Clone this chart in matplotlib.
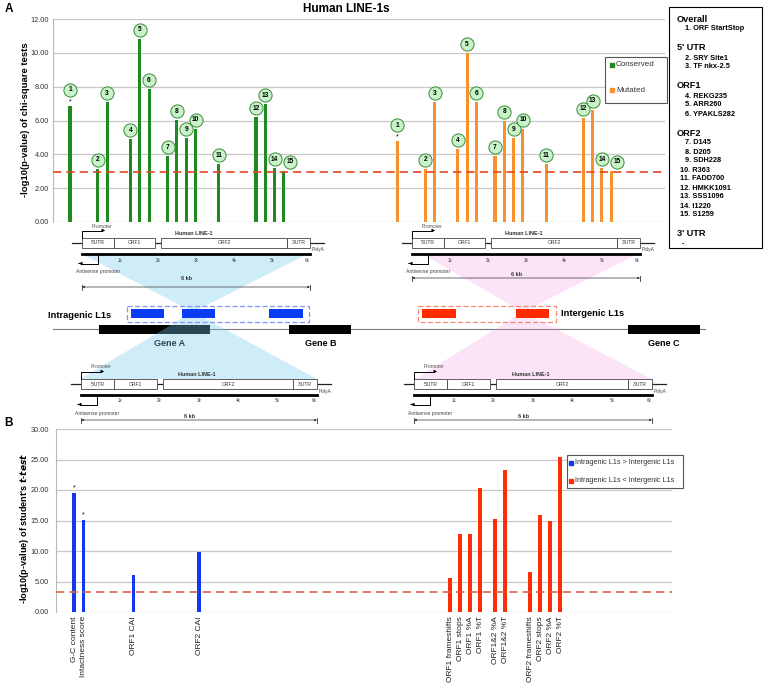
import matplotlib
matplotlib.use('Agg')
import matplotlib.pyplot as plt
from matplotlib.patches import Rectangle, Polygon

plt.rcParams['font.family'] = ['Liberation Sans', 'DejaVu Sans']

# ---- panel A data: chi-square tests per site ----
site_ids = list(range(1, 16))
site_slots = [0, 3, 4, 6.5, 7.5, 8.5, 10.5, 11.5, 12.5, 13.5, 16, 20, 21, 22, 23]
conserved = [6.87, 3.15, 7.09, 4.88, 10.83, 7.85, 3.88, 6.02, 4.96, 5.51, 3.41, 6.18, 6.95, 3.19, 3.03]
mutated = [4.78, 3.15, 7.09, 4.29, 9.98, 7.09, 3.88, 6.00, 4.94, 5.51, 3.41, 6.16, 6.65, 3.19, 3.03]
mutated_shift = 35.2
chi_cutoff = 2.93
starred_sites = [1]
chi_ticks = [0, 2, 4, 6, 8, 10, 12]

site_groups = [
    ("Overall", ["ORF StartStop"]),
    ("5' UTR", ["SRY Site1", "TF nkx-2.5"]),
    ("ORF1", ["REKG235", "ARR260", "YPAKLS282"]),
    ("ORF2", ["D145", "D205", "SDH228", "R363", "FADD700", "HMKK1091", "SSS1096", "I1220", "S1259"]),
    ("3' UTR", []),
]

# ---- panel B data: t-tests ----
features = ['G-C content', 'Intactness score', 'ORF1 CAI', 'ORF2 CAI',
            'ORF1 frameshifts', 'ORF1 stops', 'ORF1 %A', 'ORF1 %T', 'ORF1&2 %A', 'ORF1&2 %T',
            'ORF2 frameshifts', 'ORF2 stops', 'ORF2 %A', 'ORF2 %T']
feature_slots = [0, 0.95, 5.95, 12.5, 37.6, 38.6, 39.6, 40.6, 42.1, 43.1, 45.6, 46.6, 47.6, 48.6]
t_values = [19.5, 15.05, 6.03, 9.78, 5.63, 12.72, 12.82, 20.4, 15.26, 23.32, 6.6, 15.85, 14.93, 25.38]
intragenic_higher = [True] * 4 + [False] * 10
starred_features = ['G-C content', 'Intactness score']
t_cutoff = 3.3
t_ticks = [0, 5, 10, 15, 20, 25, 30]

GREEN = '#1f8a1f'
ORANGE = '#f6922e'
BLUE = '#1238ee'
RED = '#ff2c05'

W, H = 765, 684
fig = plt.figure(figsize=(W / 100, H / 100), dpi=100)


def px_rect(l, t, r, b):
    return [l / W, 1 - b / H, (r - l) / W, (b - t) / H]


def style(ax, ticks, pad):
    ax.set_ylim(ticks[0], ticks[-1])
    ax.set_yticks(ticks)
    ax.set_yticklabels(['%.2f' % t for t in ticks], fontsize=5.3, color='#333')
    ax.tick_params(axis='y', length=0, pad=pad)
    ax.grid(axis='y', color='#c8c8c8', lw=0.9)
    ax.set_axisbelow(True)
    for s in ['top', 'right', 'bottom']:
        ax.spines[s].set_visible(False)
    ax.spines['left'].set_color('#b8b8b8')
    ax.patch.set_alpha(0)


# ---------------- panel A ----------------
axA = fig.add_axes(px_rect(53, 19, 665, 222), zorder=1)
style(axA, chi_ticks, 3)
axA.set_xlim(-1.83, 63.98)
axA.set_xticks([])
ppu = 203 / 12.0
for vals, shift, col in [(conserved, 0, GREEN), (mutated, mutated_shift, ORANGE)]:
    xs = [s + shift for s in site_slots]
    axA.bar(xs, vals, width=0.33, color=col, zorder=2)
    for sid, x, v in zip(site_ids, xs, vals):
        off = 9 / ppu
        if sid in starred_sites:
            axA.text(x, v + 4 / ppu, '*', fontsize=5, ha='center', va='center', zorder=4)
            off = 16 / ppu
        dx = 0.65 if sid == 15 else 0
        axA.plot(x + dx, v + off, 'o', ms=9.5, mfc='#c8f2c8', mec='#3a8a3a', mew=0.7,
                 clip_on=False, zorder=4)
        axA.text(x + dx, v + off, str(sid), fontsize=4.8, weight='bold', ha='center',
                 va='center', zorder=5)
axA.axhline(chi_cutoff, color='#e8461e', lw=1.2, dashes=(5, 3), zorder=3)

# ---------------- panel B ----------------
axB = fig.add_axes(px_rect(56, 429, 672, 612), zorder=1)
style(axB, t_ticks, 5)
axB.set_xlim(-1.8, 59.8)
cols = [BLUE if h else RED for h in intragenic_higher]
axB.bar(feature_slots, t_values, width=0.35, color=cols, zorder=2)
for f, x, v in zip(features, feature_slots, t_values):
    if f in starred_features:
        axB.text(x, v + 0.9, '*', fontsize=5, ha='center', va='center')
axB.set_xticks(feature_slots)
axB.set_xticklabels(features, rotation=90, fontsize=6, color='#222', va='top', ha='center')
axB.tick_params(axis='x', length=0, pad=3)
axB.axhline(t_cutoff, color='#e06050', lw=1.2, dashes=(5, 3), zorder=3)

# ---------------- canvas (diagram + text) ----------------
cv = fig.add_axes([0, 0, 1, 1], zorder=2)
cv.set_xlim(0, W)
cv.set_ylim(H, 0)
cv.axis('off')

cv.text(9, 9, 'A', fontsize=8.5, weight='bold', ha='center', va='center')
cv.text(9, 423, 'B', fontsize=8.5, weight='bold', ha='center', va='center')
cv.text(346, 9, 'Human LINE-1s', fontsize=8.5, weight='bold', ha='center', va='center')
cv.text(26, 120, '-log10(p-value) of chi-square tests', fontsize=6.8, weight='bold',
        rotation=90, ha='center', va='center')
cv.text(25, 528, "-log10(p-value) of student's $\\mathbfit{t}$-$\\mathbfit{test}$", fontsize=6.6,
        weight='bold', rotation=90, ha='center', va='center')

# legend A
cv.add_patch(Rectangle((605, 57), 62, 46, fc='white', ec='#555', lw=0.8, zorder=5))
for y, col, lab in [(65, GREEN, 'Conserved'), (90, ORANGE, 'Mutated')]:
    cv.plot(612, y, 's', ms=2.6, color=col, zorder=6)
    cv.text(616, y, lab, fontsize=5.8, color='#333', va='center', zorder=6)

# legend B
cv.add_patch(Rectangle((567, 455), 116, 33, fc='white', ec='#555', lw=0.8, zorder=5))
for y, col, lab in [(463, BLUE, 'Intragenic L1s > Intergenic L1s'),
                    (481, RED, 'Intragenic L1s < Intergenic L1s')]:
    cv.plot(571, y, 's', ms=2.4, color=col, zorder=6)
    cv.text(575, y, lab, fontsize=5.2, color='#333', va='center', zorder=6)

# site list box
cv.add_patch(Rectangle((669, 7), 93, 241, fc='white', ec='k', lw=0.8, zorder=5))
y = 19
n = 1
for head, items in site_groups:
    cv.text(677, y, head, fontsize=6.6, weight='bold', va='center', zorder=6)
    y += 10
    if not items:
        cv.text(682, y, '-', fontsize=5.3, weight='bold', va='center', zorder=6)
    for it in items:
        cv.text(685 if n < 10 else 680, y, '%d. %s' % (n, it), fontsize=5.3, weight='bold',
                va='center', zorder=6)
        n += 1
        y += 9
    y += 10


def draw_l1(x0, x1, ym, kb_dy, arrow_dy):
    w = x1 - x0
    cv.plot([x0 - 10, x1 + 14], [ym, ym], color='#222', lw=0.9, zorder=3)
    parts = [(0, .14, "5'UTR"), (.14, .32, 'ORF1'), (.346, .90, 'ORF2'), (.90, 1, "3'UTR")]
    for a, b, name in parts:
        cv.add_patch(Rectangle((x0 + a * w, ym - 5), (b - a) * w, 10, fc='white', ec='#444',
                               lw=0.6, zorder=4))
        cv.text(x0 + (a + b) / 2 * w, ym, name, fontsize=3.6, ha='center', va='center',
                color='#333', zorder=5)
    cv.text(x0 + 0.49 * w, ym - 9.5, 'Human LINE-1', fontsize=4, weight='bold', ha='center',
            va='center', color='#333', zorder=5)
    cv.plot([x0, x0, x0 + 20], [ym - 5, ym - 12.5, ym - 12.5], color='k', lw=0.7, zorder=5)
    cv.annotate('', xy=(x0 + 26, ym - 12.5), xytext=(x0 + 18, ym - 12.5), zorder=5,
                arrowprops=dict(arrowstyle='-|>', lw=0.7, color='k', mutation_scale=4))
    cv.text(x0 + 20, ym - 17, 'Promoter', fontsize=3.6, ha='center', va='center', color='#555')
    sy = ym + 11
    cv.plot([x0, x1], [sy, sy], color='k', lw=2, zorder=4)
    for k in range(1, 7):
        cv.text(x0 + k / 6 * w - (3 if k == 6 else 0), sy + 6, '%dk' % k, fontsize=3.3,
                ha='center', va='center', color='#444', zorder=5)
    cv.text(x1 + 2, sy - 4, 'PolyA', fontsize=3.5, ha='left', va='center', color='#444')
    cv.plot([x0 + 16, x0 + 16, x0 - 1], [sy, sy + 9.5, sy + 9.5], color='k', lw=0.7, zorder=5)
    cv.annotate('', xy=(x0 - 6, sy + 9.5), xytext=(x0, sy + 9.5), zorder=5,
                arrowprops=dict(arrowstyle='-|>', lw=0.7, color='k', mutation_scale=4))
    cv.text(x0 - 6, sy + 18, 'Antisense promoter', fontsize=3.6, ha='left', va='center',
            color='#444')
    cv.text(x0 + 0.46 * w, sy + kb_dy, '6 kb', fontsize=4, weight='bold', ha='center',
            va='center', color='#333')
    ay = sy + arrow_dy
    cv.annotate('', xy=(x1, ay), xytext=(x0, ay), zorder=5,
                arrowprops=dict(arrowstyle='<|-|>', lw=0.5, color='#333', mutation_scale=3,
                                shrinkA=0, shrinkB=0))
    for xx in (x0, x1):
        cv.plot([xx, xx], [ay - 2.5, ay + 2.5], color='#333', lw=0.6)


# genome line, genes, L1 copies
cv.plot([53, 705], [329, 329], color='#7a7a7a', lw=0.8, zorder=1)
for l, r, name, tx in [(99, 210, 'Gene A', 170), (289, 351, 'Gene B', 321), (628, 700, 'Gene C', 664)]:
    cv.add_patch(Rectangle((l, 325), r - l, 9, fc='black', ec='none', zorder=2))
    cv.text(tx, 343, name, fontsize=6.5, weight='bold', ha='center', va='center', zorder=2)

cv.add_patch(Rectangle((127, 306), 182, 16, fc='none', ec='#8096ee', lw=0.9, ls=(0, (4, 2)), zorder=3))
for l, r in [(131, 164), (182, 215), (269, 303)]:
    cv.add_patch(Rectangle((l, 309), r - l, 9, fc='#0b3cf5', ec='none', zorder=3))
cv.add_patch(Rectangle((418, 306), 138, 16, fc='none', ec='#f08a70', lw=0.9, ls=(0, (4, 2)), zorder=3))
for l, r in [(422, 456), (516, 549)]:
    cv.add_patch(Rectangle((l, 309), r - l, 9, fc='#ff2a00', ec='none', zorder=3))
cv.text(80, 315, 'Intragenic L1s', fontsize=6.7, weight='bold', ha='center', va='center')
cv.text(561, 314, 'Intergenic L1s', fontsize=6.7, weight='bold', ha='left', va='center')

# zoom-out shading
for pts, col, a in [([(82, 254), (308, 254), (193, 312)], '#78cdf0', 0.35),
                    ([(193, 312), (80, 379), (317, 379)], '#78cdf0', 0.35),
                    ([(422, 254), (638, 254), (523, 312)], '#f096e1', 0.25),
                    ([(523, 312), (415, 379), (652, 379)], '#f096e1', 0.25)]:
    cv.add_patch(Polygon(pts, closed=True, fc=col, ec='none', alpha=a, zorder=2.5))

draw_l1(82, 310, 243, 24, 33)
draw_l1(412, 640, 243, 20, 24)
draw_l1(81, 317, 384, 21, 25)
draw_l1(414, 652, 384, 21, 25)

fig.savefig('out.png', dpi=100)
